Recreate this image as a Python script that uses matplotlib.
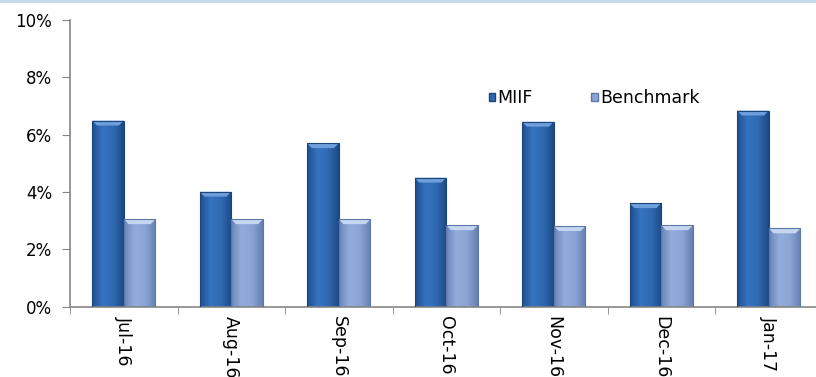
import matplotlib
matplotlib.use('Agg')
import matplotlib.pyplot as plt
import numpy as np
from matplotlib.colors import LinearSegmentedColormap
from matplotlib.patches import Rectangle, Patch, Polygon

months = ['Jul-16', 'Aug-16', 'Sep-16', 'Oct-16', 'Nov-16', 'Dec-16', 'Jan-17']
miif = [6.49, 4.01, 5.70, 4.50, 6.45, 3.61, 6.84]
benchmark = [3.05, 3.05, 3.05, 2.84, 2.81, 2.84, 2.73]
yticks = [0, 2, 4, 6, 8, 10]

plt.rcParams['font.family'] = ['DejaVu Sans']

fig = plt.figure(figsize=(8.16, 3.77), dpi=100)
ax = fig.add_axes([70/816, 70.3/377, 752.5/816, 286.7/377])

# light blue strip along the top
fig.patches.append(Rectangle((0, 1 - 3/377), 1, 3/377, transform=fig.transFigure,
                             facecolor='#c9dcec', edgecolor='none'))

cmap_m = LinearSegmentedColormap.from_list('m', ['#1f4f90', '#3673c0', '#2f69b2', '#1d4a86'])
cmap_b = LinearSegmentedColormap.from_list('b', ['#6a86bb', '#93addb', '#8aa4d4', '#6680b4'])

x = np.arange(len(months))
w = 0.295
bev_x, bev_y = 0.045, 0.17   # bevel size in data units

def grad_bars(xs, vals, cmap, edge, top):
    bars = ax.bar(xs, vals, width=w, facecolor='none', edgecolor=edge, linewidth=0.8, zorder=4)
    g = np.linspace(0, 1, 64).reshape(1, -1)
    for b in bars:
        x0, y0 = b.get_x(), b.get_y()
        x1, y1 = x0 + b.get_width(), y0 + b.get_height()
        im = ax.imshow(g, cmap=cmap, aspect='auto', zorder=2, extent=[x0, x1, y0, y1])
        im.set_clip_path(b)
        ax.add_patch(Polygon([(x0, y1), (x1, y1), (x1 - bev_x, y1 - bev_y), (x0 + bev_x, y1 - bev_y)],
                             closed=True, facecolor=top, edgecolor='none', zorder=3))
    return bars

grad_bars(x - w/2, miif, cmap_m, '#1b4478', '#6e9fdc')
grad_bars(x + w/2, benchmark, cmap_b, '#5d77a8', '#c4d6f0')

ax.set_xlim(-0.5, len(months) - 0.5)
ax.set_ylim(0, 10)
ax.set_yticks(yticks)
ax.set_yticklabels([f'{v}%' for v in yticks], fontsize=12)
ax.set_xticks(x)
ax.set_xticklabels(months, rotation=270, fontsize=12.5, va='top', ha='center')
ax.set_xticks(np.arange(len(months) + 1) - 0.5, minor=True)
ax.tick_params(axis='x', which='major', length=0, pad=7)
ax.tick_params(axis='x', which='minor', length=5, color='#868686', direction='out')
ax.tick_params(axis='y', length=6, color='#868686', pad=7)

for s in ['top', 'right']:
    ax.spines[s].set_visible(False)
for s in ['left', 'bottom']:
    ax.spines[s].set_color('#868686')
    ax.spines[s].set_linewidth(1.2)

handles = [Patch(facecolor='#2f69b2', edgecolor='#1b4478', label='MIIF'),
           Patch(facecolor='#8aa4d4', edgecolor='#5d77a8', label='Benchmark')]
fig.legend(handles=handles, loc='center', bbox_to_anchor=(594/816, 1 - 98/377), ncol=2,
           frameon=False, fontsize=12.5, handlelength=0.38, handleheight=0.38,
           handletextpad=0.1, columnspacing=3.4)

fig.savefig('out.png', dpi=100)
